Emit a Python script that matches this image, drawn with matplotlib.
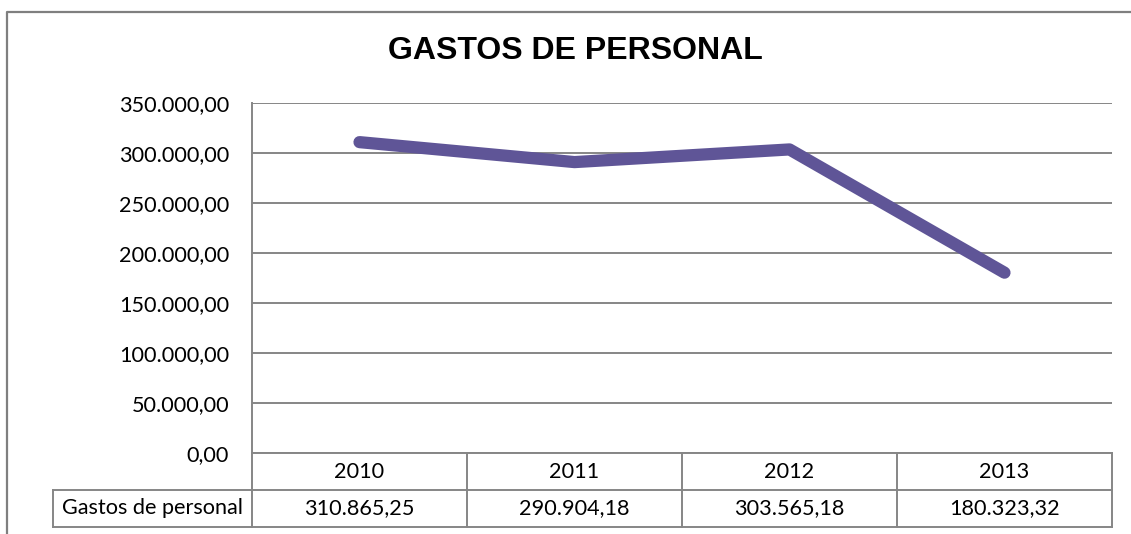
import matplotlib
matplotlib.use("Agg")
import matplotlib.pyplot as plt
from matplotlib.lines import Line2D
from matplotlib.transforms import blended_transform_factory

title = "GASTOS DE PERSONAL"
series_name = "Gastos de personal"
years = ["2010", "2011", "2012", "2013"]
values = [310865.25, 290904.18, 303565.18, 180323.32]
yticks = [0, 50000, 100000, 150000, 200000, 250000, 300000, 350000]


def fmt_es(v):
    s = f"{v:,.2f}"
    return s.replace(",", "X").replace(".", ",").replace("X", ".")


W, H = 1131, 534
fig = plt.figure(figsize=(W / 100, H / 100), dpi=100)
fig.patch.set_facecolor("white")

def fx(px):
    return px / W

def fy(py):
    return 1 - py / H

gray = "#868686"
font = "Lato"
fs = 15.6

ax = fig.add_axes([fx(252), fy(453), fx(1112) - fx(252), fy(103) - fy(453)])
x = [i + 0.5 for i in range(len(years))]
ax.set_xlim(0, len(years))
ax.set_ylim(0, 350000)
ax.plot(x, values, color="#5F5597", lw=8.8, solid_capstyle="round",
        solid_joinstyle="round", zorder=3)
ax.set_yticks(yticks)
ax.set_yticklabels([fmt_es(v) for v in yticks], fontfamily=font, fontsize=fs)
ax.tick_params(axis="y", length=0, pad=16.5)
ax.set_xticks([])
ax.grid(axis="y", color=gray, lw=1.4)
ax.set_axisbelow(True)
for s in ["top", "right", "bottom"]:
    ax.spines[s].set_visible(False)
ax.spines["left"].set_color(gray)
ax.spines["left"].set_linewidth(1.4)

# data table
tr = blended_transform_factory(ax.transData, fig.transFigure)
y0, y1, y2 = fy(453), fy(490), fy(527)
lbl_left = -(252 - 53) / ((1112 - 252) / len(years))
lkw = dict(color=gray, lw=1.4, transform=tr, clip_on=False)
fig.add_artist(Line2D([0, len(years)], [y0, y0], **lkw))
fig.add_artist(Line2D([lbl_left, len(years)], [y1, y1], **lkw))
fig.add_artist(Line2D([lbl_left, len(years)], [y2, y2], **lkw))
for i in range(len(years) + 1):
    fig.add_artist(Line2D([i, i], [y0, y2], **lkw))
fig.add_artist(Line2D([lbl_left, lbl_left], [y1, y2], **lkw))
for xi, yr, v in zip(x, years, values):
    fig.text(xi, (y0 + y1) / 2, yr, transform=tr, ha="center", va="center",
             fontfamily=font, fontsize=fs)
    fig.text(xi, (y1 + y2) / 2, fmt_es(v), transform=tr, ha="center", va="center",
             fontfamily=font, fontsize=fs)
fig.text((lbl_left + 0) / 2, (y1 + y2) / 2, series_name, transform=tr,
         ha="center", va="center", fontfamily=font, fontsize=fs)

# outer chart border
fig.add_artist(Line2D([fx(7), fx(7), 1], [0, fy(12), fy(12)], color="#7f7f7f",
                      lw=1.6, transform=fig.transFigure))

fig.text(fx(575), fy(51), title, ha="center", va="center",
         fontfamily="Liberation Sans", fontweight="bold", fontsize=23)

fig.savefig("out.png", dpi=100)
